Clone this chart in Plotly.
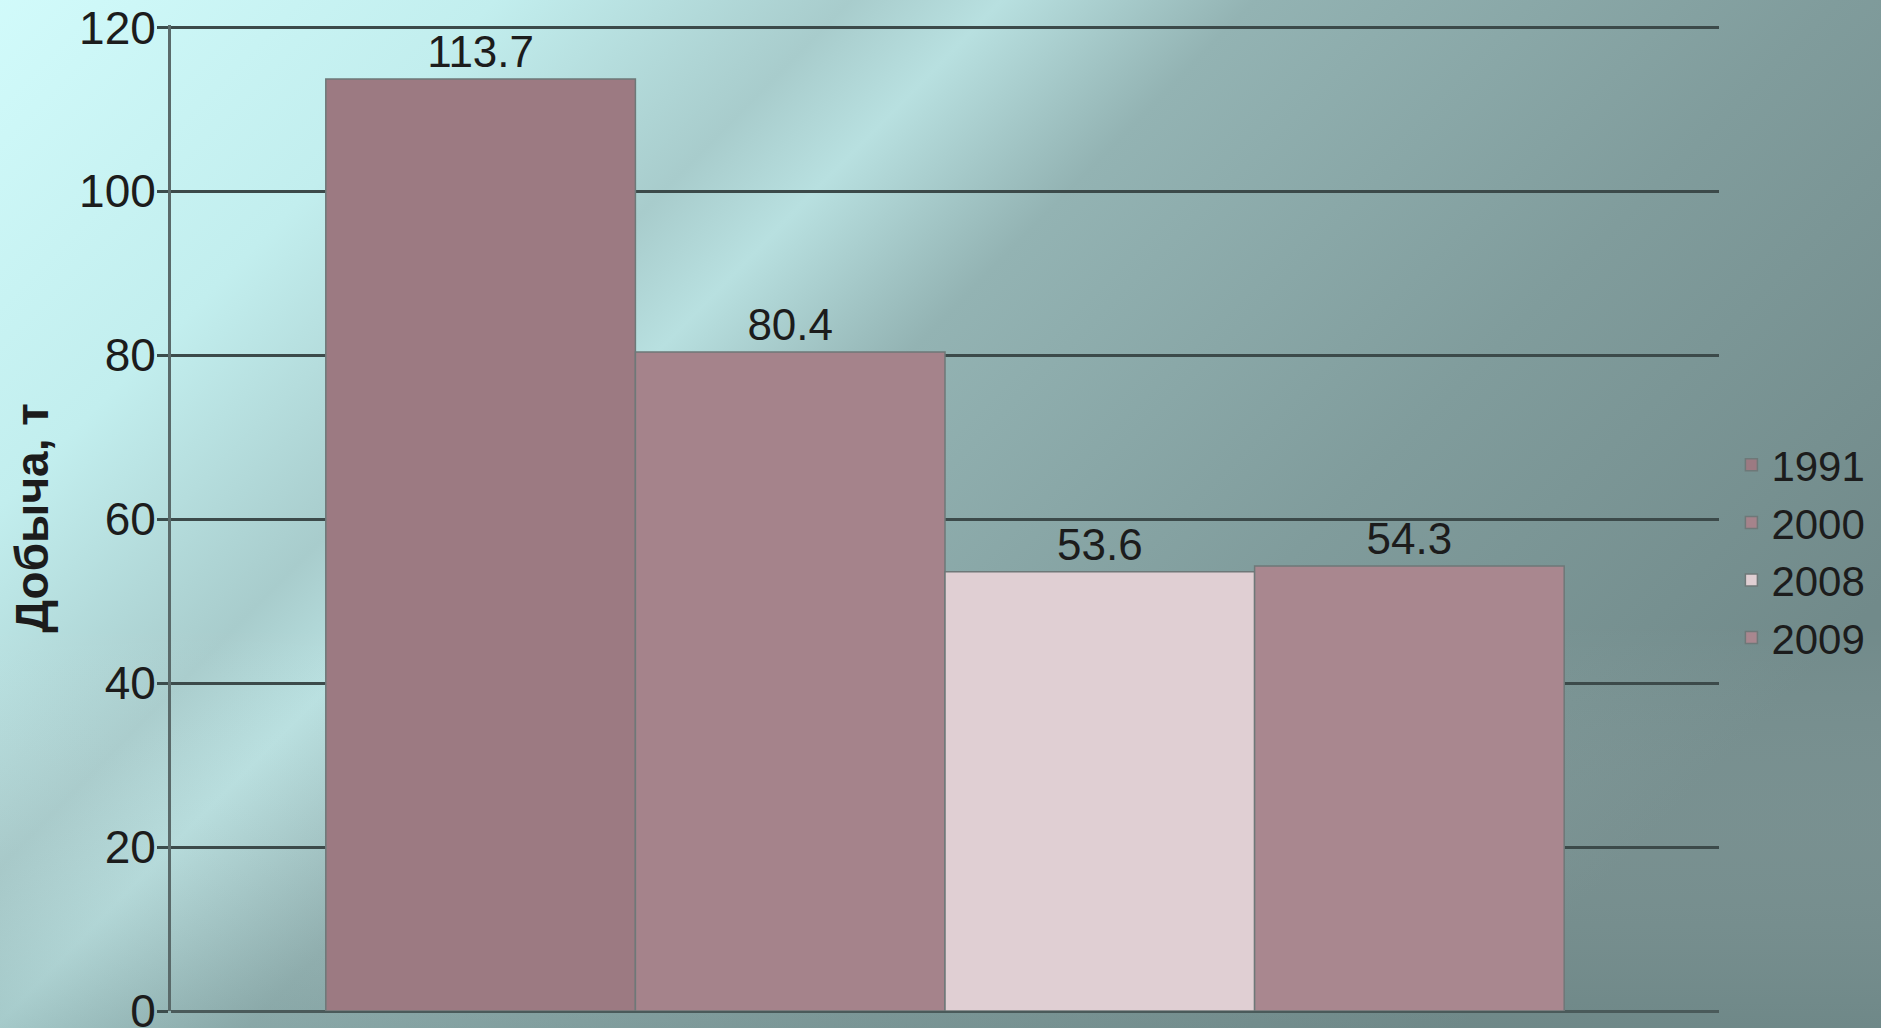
import base64
import plotly.graph_objects as go

# ---- data ----
years = ["1991", "2000", "2008", "2009"]
values = [113.7, 80.4, 53.6, 54.3]
category = ["Добыча"]
y_ticks = [0, 20, 40, 60, 80, 100, 120]
y_title = "Добыча, т"

# ---- styles ----
bar_colors = ["#9c7a82", "#a5838b", "#e0cfd3", "#a9878f"]
font_family = "Liberation Sans, Arial, sans-serif"
text_color = "#1c1c1c"

bg_svg = """<svg xmlns='http://www.w3.org/2000/svg' width='1881' height='1028' viewBox='0 0 1881 1028' preserveAspectRatio='none'>
<defs>
<linearGradient id='g' x1='0' y1='0' x2='1' y2='0.55'>
<stop offset='0' stop-color='#d3fcfc'/>
<stop offset='0.22' stop-color='#c2eeee'/>
<stop offset='0.36' stop-color='#a8cccc'/>
<stop offset='0.42' stop-color='#b8e0e0'/>
<stop offset='0.52' stop-color='#93b3b3'/>
<stop offset='0.75' stop-color='#809c9c'/>
<stop offset='1' stop-color='#718a8a'/>
</linearGradient>
<linearGradient id='h' x1='0' y1='0' x2='0' y2='1'>
<stop offset='0' stop-color='#ffffff' stop-opacity='0'/>
<stop offset='0.6' stop-color='#ffffff' stop-opacity='0'/>
<stop offset='1' stop-color='#5c7878' stop-opacity='0.25'/>
</linearGradient>
</defs>
<rect width='1881' height='1028' fill='url(#g)'/>
<rect width='1881' height='1028' fill='url(#h)'/>
</svg>"""
bg_uri = "data:image/svg+xml;base64," + base64.b64encode(bg_svg.encode("utf-8")).decode("ascii")

W, H = 1881, 1028
ML, MR, MT, MB = 171, 162, 25, 17
PW, PH = W - ML - MR, H - MT - MB
PAD = 30  # extra coverage for the background picture

fig = go.Figure()
for yr, val, col in zip(years, values, bar_colors):
    fig.add_trace(go.Bar(
        name=yr,
        x=category,
        y=[val],
        marker=dict(color=col, line=dict(color="#6e7878", width=1.5)),
        text=[f"{val:.1f}"],
        textposition="outside",
        cliponaxis=False,
        textfont=dict(size=44, color=text_color, family=font_family),
    ))

fig.update_layout(
    width=W,
    height=H,
    barmode="group",
    bargap=0.2,
    bargroupgap=0,
    margin=dict(l=ML, r=MR, t=MT, b=MB, autoexpand=False),
    paper_bgcolor="#b4d8d8",
    plot_bgcolor="rgba(0,0,0,0)",
    font=dict(family=font_family, color=text_color, size=44),
    showlegend=True,
    legend=dict(
        x=1.008, xanchor="left", y=0.466, yanchor="middle",
        font=dict(size=42, color=text_color, family=font_family),
        bgcolor="rgba(0,0,0,0)",
        itemwidth=30,
        tracegroupgap=0,
    ),
    images=[dict(
        source=bg_uri, xref="paper", yref="paper",
        x=-(ML + PAD) / PW, y=1 + (MT + PAD) / PH,
        sizex=(W + 2 * PAD) / PW, sizey=(H + 2 * PAD) / PH,
        sizing="stretch", layer="below",
        xanchor="left", yanchor="top",
    )],
)

fig.update_xaxes(
    showticklabels=False, showgrid=False, zeroline=False,
    showline=False, ticks="", automargin=False,
)
fig.update_yaxes(
    range=[0, 120.3],
    tickvals=y_ticks,
    automargin=False,
    ticks="outside", ticklen=11, tickwidth=3, tickcolor="#3c4c4c",
    showgrid=True, gridcolor="#3c4a4a", gridwidth=3,
    showline=True, linecolor="#5a6a6a", linewidth=3,
    zeroline=True, zerolinecolor="#4a5a5a", zerolinewidth=3,
    ticklabeloverflow="allow",
    ticklabelstandoff=-8,
    tickfont=dict(size=46, color=text_color, family=font_family),
    title=dict(text="<b>" + y_title + "</b>", font=dict(size=46, color=text_color, family=font_family), standoff=16),
)

fig.write_html(
    "out.html",
    config={"displayModeBar": False},
    post_script="document.body.style.margin='0';document.body.style.overflow='hidden';",
)
